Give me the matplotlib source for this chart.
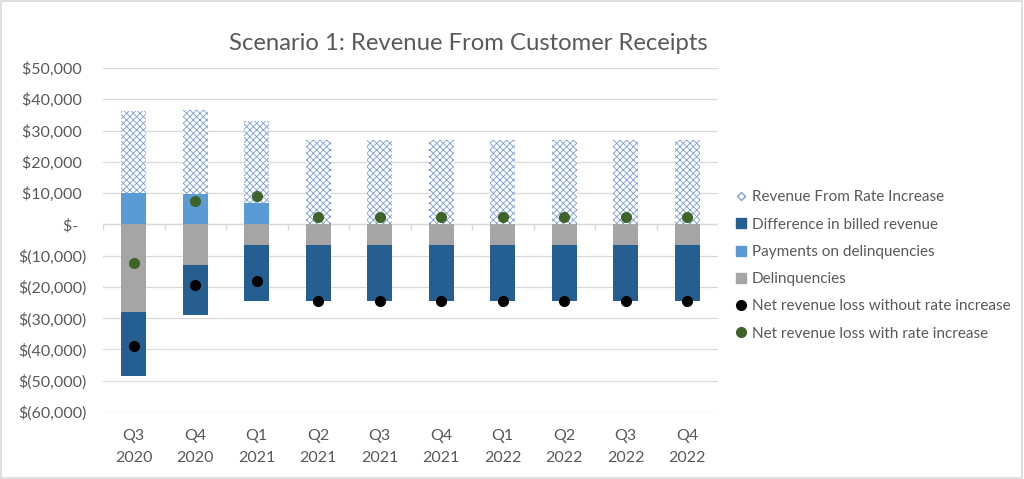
import matplotlib
matplotlib.use("Agg")
import matplotlib.pyplot as plt
import numpy as np
from matplotlib.lines import Line2D
from matplotlib.patches import Rectangle

categories = ["Q3\n2020", "Q4\n2020", "Q1\n2021", "Q2\n2021", "Q3\n2021",
              "Q4\n2021", "Q1\n2022", "Q2\n2022", "Q3\n2022", "Q4\n2022"]
rate_increase = [26300, 26800, 26500, 26900, 26900, 26900, 26900, 26900, 26900, 26900]
payments_delinq = [9900, 9800, 6700, 0, 0, 0, 0, 0, 0, 0]
delinquencies = [-28100, -13000, -6500, -6500, -6500, -6500, -6500, -6500, -6500, -6500]
billed_diff = [-20500, -16100, -18000, -18000, -18000, -18000, -18000, -18000, -18000, -18000]
net_without = [-38900, -19400, -18000, -24500, -24500, -24500, -24500, -24500, -24500, -24500]
net_with = [-12400, 7400, 9000, 2400, 2400, 2400, 2400, 2400, 2400, 2400]
y_ticks = [50000, 40000, 30000, 20000, 10000, 0, -10000, -20000, -30000, -40000, -50000, -60000]

plt.rcParams['font.family'] = ['Lato', 'DejaVu Sans']
plt.rcParams['hatch.linewidth'] = 0.6

C_DARK = '#255E91'
C_LIGHT = '#5B9BD5'
C_GRAY = '#A5A5A5'
C_HATCH = '#7A9CDB'
C_GREEN = '#3E6428'
C_TEXT = '#595959'
C_GRID = '#D9D9D9'

fig = plt.figure(figsize=(10.24, 4.79), dpi=100)
ax = fig.add_axes([103/1024, 1-412/479, (718-103)/1024, (412-68)/479])

x = np.arange(len(categories))
w = 0.41

ax.bar(x, payments_delinq, w, color=C_LIGHT, zorder=2)
ax.bar(x, rate_increase, w, bottom=payments_delinq, color='white', edgecolor=C_HATCH,
       hatch='xxxxx', linewidth=0, zorder=2)
ax.bar(x, delinquencies, w, color=C_GRAY, zorder=2)
ax.bar(x, billed_diff, w, bottom=delinquencies, color=C_DARK, zorder=2)
ax.plot(x, net_without, 'o', color='black', markersize=7, zorder=3)
ax.plot(x, net_with, 'o', color=C_GREEN, markersize=7, zorder=3)

ax.set_ylim(-60000, 50000)
ax.set_xlim(-0.5, len(categories) - 0.5)
ax.set_yticks(y_ticks)

def fmt(v):
    if v == 0:
        return "$-  "
    if v < 0:
        return "$({:,})".format(-v)
    return "${:,} ".format(v)

ax.set_yticklabels([fmt(v) for v in y_ticks])
ax.set_xticks(x)
ax.set_xticklabels(categories, linespacing=1.75)
ax.tick_params(axis='y', length=0, pad=12, labelsize=11.5, labelcolor=C_TEXT)
ax.tick_params(axis='x', length=0, pad=12, labelsize=11.5, labelcolor=C_TEXT)
for s in ax.spines.values():
    s.set_visible(False)
ax.grid(axis='y', color=C_GRID, linewidth=0.9, zorder=0)
ax.set_axisbelow(True)

# category axis at zero with boundary tick marks
ax.axhline(0, color=C_GRID, linewidth=1.0, zorder=1)
bounds = np.arange(len(categories) + 1) - 0.5
ax.vlines(bounds, -1700, 0, color=C_GRID, linewidth=1.0, zorder=1)

fig.text(468/1024, 1-43/479, "Scenario 1: Revenue From Customer Receipts",
         ha='center', va='center', fontsize=17.2, color=C_TEXT)

handles = [
    Line2D([], [], marker='D', linestyle='None', markersize=4.5, markerfacecolor='white',
           markeredgecolor=C_HATCH, markeredgewidth=1.0),
    Line2D([], [], marker='s', linestyle='None', markersize=7, color=C_DARK),
    Line2D([], [], marker='s', linestyle='None', markersize=7, color=C_LIGHT),
    Line2D([], [], marker='s', linestyle='None', markersize=7, color=C_GRAY),
    Line2D([], [], marker='o', linestyle='None', markersize=7, color='black'),
    Line2D([], [], marker='o', linestyle='None', markersize=7, color=C_GREEN),
]
labels = ["Revenue From Rate Increase", "Difference in billed revenue",
          "Payments on delinquencies", "Delinquencies",
          "Net revenue loss without rate increase", "Net revenue loss with rate increase"]
leg = fig.legend(handles, labels, loc='center left', bbox_to_anchor=(736/1024, 1-265.5/479),
                 frameon=False, fontsize=11, handlelength=0.7, handletextpad=0.35,
                 labelspacing=0.87, borderpad=0, borderaxespad=0)
for t in leg.get_texts():
    t.set_color(C_TEXT)

fig.patches.append(Rectangle((0.001, 0.002), 0.997, 0.995, transform=fig.transFigure,
                             fill=False, edgecolor=C_GRID, linewidth=1.2))

fig.savefig("out.png", dpi=100, facecolor='white')
